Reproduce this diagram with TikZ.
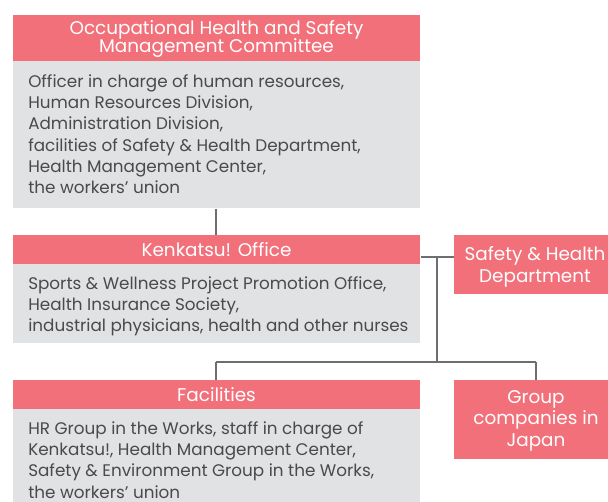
\documentclass[tikz,border=0pt]{standalone}
\usepackage{fontspec}
\setmainfont{Poppins}
\definecolor{hdr}{HTML}{F2707A}
\definecolor{bodyg}{HTML}{E1E2E4}
\definecolor{txt}{HTML}{4A4A4C}
\definecolor{ln}{HTML}{6D6E71}
\newcommand\fl{\rule{0pt}{9pt}}
\newcommand\hdl{\rule{0pt}{11pt}}
\lineskiplimit=-20pt
\begin{document}
\begin{tikzpicture}[x=0.75pt,y=-0.75pt,
  hbox/.style={fill=hdr,draw=none,inner sep=0,anchor=north west},
  gbox/.style={fill=bodyg,draw=none,inner sep=0,anchor=north west},
  htext/.style={text=white,inner sep=0,align=center,anchor=north,font=\fontsize{13.8}{13.5}\selectfont},
  btext/.style={text=txt,inner sep=0,align=left,anchor=north west,font=\fontsize{12.6}{16}\selectfont},
  conn/.style={draw=ln,line width=1.5pt}]
\useasboundingbox (0,0) rectangle (608,502);
% rectangles
\node[hbox,minimum width=407*0.75pt,minimum height=46*0.75pt] (h1) at (13,15) {};
\node[gbox,minimum width=407*0.75pt,minimum height=147*0.75pt] (b1) at (13,61) {};
\node[hbox,minimum width=407*0.75pt,minimum height=29*0.75pt] (h2) at (13,235) {};
\node[gbox,minimum width=407*0.75pt,minimum height=79*0.75pt] (b2) at (13,264) {};
\node[hbox,minimum width=407*0.75pt,minimum height=29*0.75pt] (h3) at (13,380) {};
\node[gbox,minimum width=407*0.75pt,minimum height=93*0.75pt] (b3) at (13,409) {};
\node[hbox,minimum width=154*0.75pt,minimum height=59*0.75pt] (sh) at (454,235) {};
\node[hbox,minimum width=154*0.75pt,minimum height=79*0.75pt] (gc) at (454,380) {};
% texts
\node[htext] (t1) at (216.5,19.3) {\hdl Occupational Health and Safety\\Management Committee};
\node[btext] (u1) at (28,74) {\fl Officer in charge of human resources,\\Human Resources Division,\\Administration Division,\\facilities of Safety \& Health Department,\\Health Management Center,\\the workers’ union};
\node[htext] (t2) at (216.5,241.3) {\hdl Kenkatsu! Office};
\node[btext] (u2) at (28,276) {\fl Sports \& Wellness Project Promotion Office,\\Health Insurance Society,\\industrial physicians, health and other nurses};
\node[htext] (t3) at (216.5,386.3) {\hdl Facilities};
\node[btext] (u3) at (28,421) {\fl HR Group in the Works, staff in charge of\\Kenkatsu!, Health Management Center,\\Safety \& Environment Group in the Works,\\the workers’ union};
\node[htext,font=\fontsize{13.8}{16.5}\selectfont] (t4) at (535,245.3) {\hdl Safety \& Health\\Department};
\node[htext,font=\fontsize{13.8}{16.1}\selectfont] (t5) at (536,388.3) {\hdl Group\\companies in\\Japan};
% connectors
\coordinate (j1) at (437,257);
\coordinate (j2) at (437,362);
\coordinate (jl) at (216,362);
\coordinate (jr) at (536,362);
\draw[conn] (b1.south -| 216,0) -- (h2.north -| 216,0);
\draw[conn] (h2.north east |- j1) -- (sh.north west |- j1);
\draw[conn] (j1) -- (j2);
\draw[conn] (jl) -- (jr);
\draw[conn] (jl) -- (jl |- h3.north);
\draw[conn] (jr) -- (jr |- gc.north);
\end{tikzpicture}
\end{document}
